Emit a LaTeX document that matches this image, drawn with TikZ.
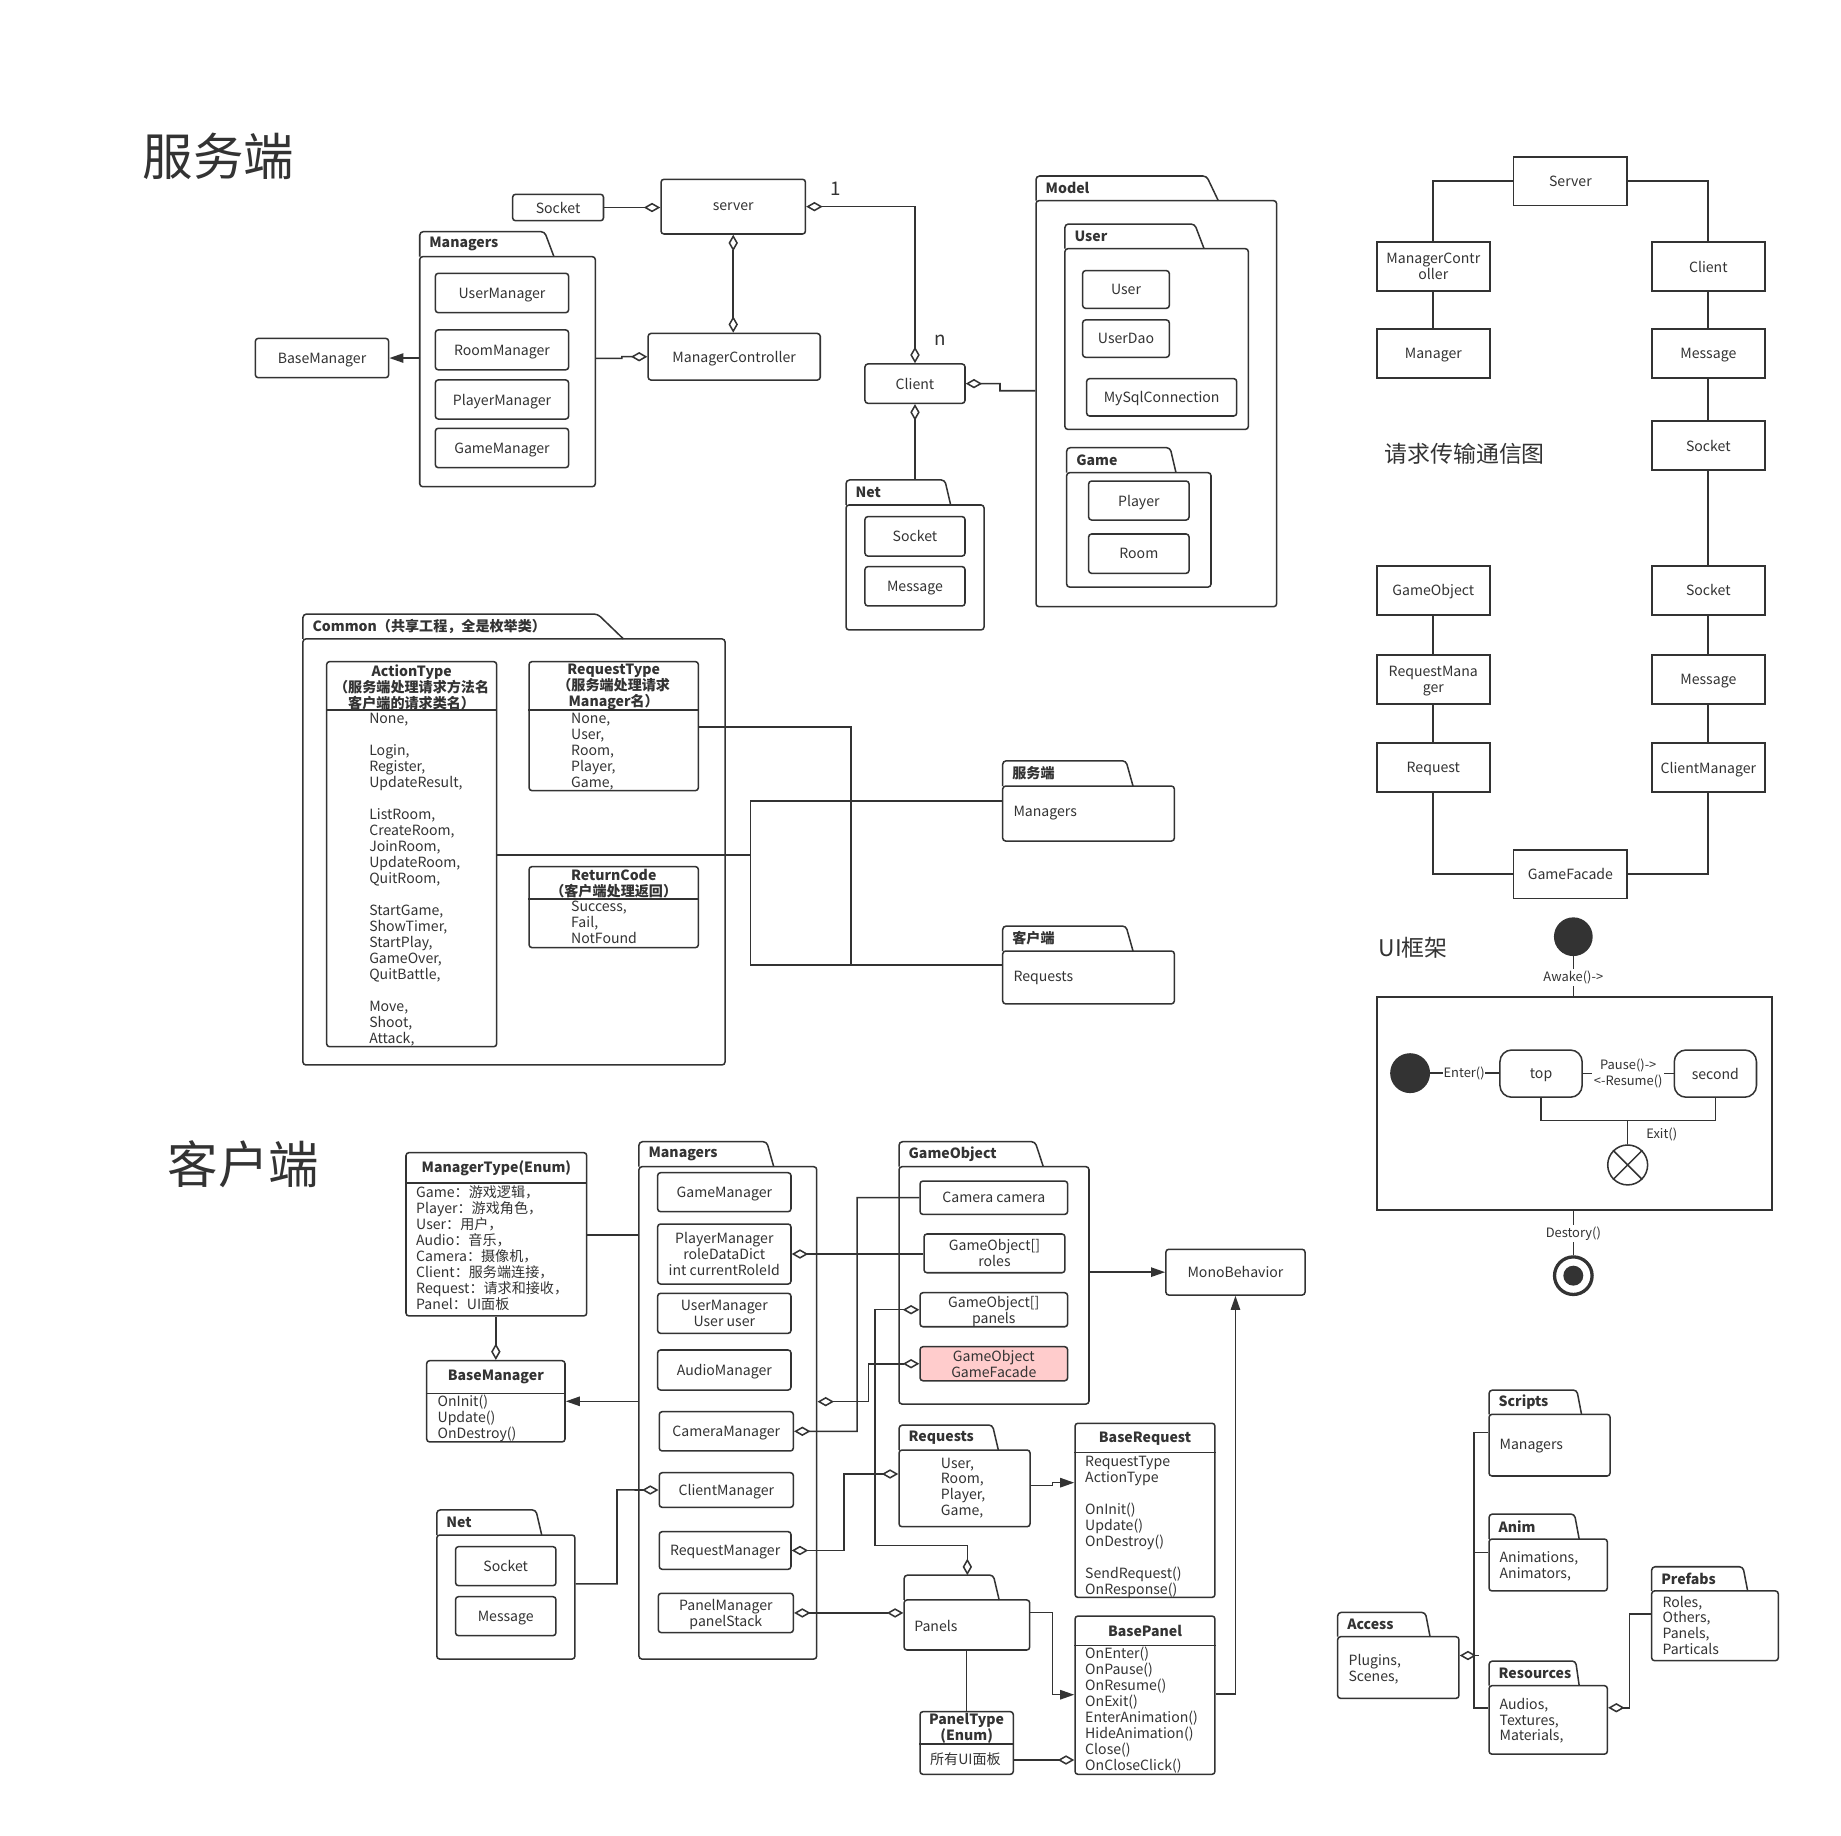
\documentclass[tikz,border=0pt]{standalone}
\usepackage{fontspec}
\setmainfont{Noto Sans CJK SC}
\usetikzlibrary{arrows.meta,calc}
\definecolor{ink}{HTML}{333333}
\definecolor{facade}{HTML}{FFCCCC}

\newcommand\ftn{\fontsize{12}{13.6}\selectfont}
\newcommand\ftb{\fontsize{12}{13.6}\selectfont\bfseries}
\newcommand\fts{\fontsize{11}{13.6}\selectfont}

% rectangle node given by its corners: [options]{name}{x1}{y1}{x2}{y2}{text}
\newcommand\mkbox[7][]{%
  \node[box,#1,minimum width={(#5)-(#3)},minimum height={(#6)-(#4)}] (#2)
    at ({((#3)+(#5))/2},{((#4)+(#6))/2}) {#7};}
% UML package: {name}{x1}{tab top}{body top}{x2}{bottom}{tab right}{tab slant}{label}
\newcommand\mkpkg[9]{%
  \node[pkgbody,minimum width={(#5)-(#2)},minimum height={(#6)-(#4)}] (#1)
    at ({((#2)+(#5))/2},{((#4)+(#6))/2}) {};
  \draw[pkgline,rounded corners=3pt] ({#2},{#4}) -- ({#2},{#3}) -- ({(#7)-(#8)},{#3}) -- ({#7},{#4});
  \node[pkglabel,anchor=west] at ({(#2)+8},{((#3)+(#4))/2}) {#9};}
% left-aligned list of lines: {x}{y of first line}{items}
\newcommand\mklist[3]{%
  \foreach \itm [count=\ii from 0] in {#3} {\node[lstitem] at ({#1},{(#2)+13.6*\ii}) {\itm};}}

\begin{document}
\begin{tikzpicture}[x=1pt,y=-1pt,
  every node/.style={text=ink},
  conn/.style={draw=ink,line width=1.3pt},
  box/.style={draw=ink,line width=1.3pt,rounded corners=2.5pt,inner sep=1pt,align=center,font=\ftn,text depth=0pt},
  rbox/.style={sharp corners,line width=1.5pt},
  pkgbody/.style={draw=ink,line width=1.3pt,rounded corners=2.5pt,inner sep=0},
  pkgline/.style={draw=ink,line width=1.3pt},
  pkglabel/.style={font=\ftb,inner sep=0},
  lstitem/.style={anchor=west,inner sep=0,font=\ftn,text height=9pt,text depth=1pt},
  txt/.style={anchor=west,inner sep=0,font=\ftn},
  hdr/.style={font=\ftb,align=center,inner sep=0},
  lblw/.style={fill=white,inner sep=1.5pt,font=\fts,align=center},
  lbl/.style={inner sep=0,font=\fts},
  title/.style={font=\fontsize{43}{43}\selectfont,inner sep=0},
  agg/.style={-{Diamond[length=14pt,width=8pt,fill=white]}},
  aggs/.style={{Diamond[length=14pt,width=8pt,fill=white]}-},
  aggb/.style={{Diamond[length=14pt,width=8pt,fill=white]}-{Diamond[length=14pt,width=8pt,fill=white]}},
  gen/.style={-{Triangle[length=12pt,width=8pt]}},
]
\path[use as bounding box,fill=white] (0,0) rectangle (1568,1563);

%% ---------------- server side ----------------
\node[title] (tServer) at (186,133) {服务端};
\mkbox{sSock}{436.6}{165.5}{514}{188}{Socket}
\mkbox{sServer}{563}{152.7}{686}{199.3}{server}
\mkpkg{sMgrs}{357.5}{197.3}{218.6}{507}{414.5}{471.8}{8}{Managers}
\mkbox{sUM}{370.8}{232.8}{484.3}{266.3}{UserManager}
\mkbox{sRM}{370.8}{281}{484.3}{315}{RoomManager}
\mkbox{sPM}{370.8}{323.6}{484.3}{356.9}{PlayerManager}
\mkbox{sGM}{370.8}{364.8}{484.3}{398.3}{GameManager}
\mkbox{sBase}{217.5}{288.2}{331}{321.7}{BaseManager}
\mkbox{sMC}{552}{284}{698.6}{323.7}{ManagerController}
\mkbox{sClient}{736.7}{310}{821.9}{343.5}{Client}
\mkpkg{sNet}{720.6}{408.8}{430.1}{838.1}{536.5}{809.7}{5}{Net}
\mkbox{sNSock}{736.7}{440}{821.9}{473.6}{Socket}
\mkbox{sNMsg}{736.7}{482.6}{821.9}{516.1}{Message}
\mkpkg{sModel}{882.4}{149.9}{170.9}{1087.3}{516.7}{1037.6}{10}{Model}
\mkpkg{sUserP}{907}{190.8}{211.8}{1063.2}{365.7}{1025.5}{8}{User}
\mkbox{mUser}{922.1}{230.5}{995.9}{262.6}{User}
\mkbox{mDao}{922.1}{272.5}{995.9}{304.3}{UserDao}
\mkbox{mSql}{925.5}{322.5}{1053.3}{354.3}{MySqlConnection}
\mkpkg{sGameP}{908.5}{381.3}{402.6}{1031.4}{500}{1001.6}{5}{Game}
\mkbox{mPlayer}{927.2}{409.7}{1012.7}{442.9}{Player}
\mkbox{mRoom}{927.2}{454.8}{1012.7}{488.3}{Room}

\draw[conn,agg] (sSock.east) -- (sSock.east -| sServer.west);
\draw[conn,aggb] (sServer.south) -- (sServer.south |- sMC.north);
\draw[conn,aggb] (sServer.east) -| (sClient.north);
\draw[conn,gen] (sBase.east -| sMgrs.west) -- (sBase.east);
\draw[conn,agg] (sMgrs.east |- 0,305.2) -- (529.6,305.2) -- (529.6,303.8) -- (sMC.west);
\draw[conn,aggs] (sClient.east) -- (851.7,326.8) -- (851.7,332.8) -- (sModel.west |- 0,332.8);
\draw[conn,aggs] (sClient.south) -- (sClient.south |- 0,408.8);
\node[font=\fontsize{16}{16}\selectfont,inner sep=0] (lOne) at (712,160.4) {1};
\node[font=\fontsize{16}{16}\selectfont,inner sep=0] (lN) at (800.6,290.2) {n};

%% ---------------- shared enums ----------------
\mkpkg{cPkg}{258}{523}{544.2}{617.5}{907}{531}{22}{Common（共享工程，全是枚举类）}
\mkbox{cAct}{278.2}{563.5}{423}{891.5}{}
\node[hdr] (hAct) at (350.6,585.3) {ActionType\\（服务端处理请求方法名\\客户端的请求类名）};
\draw[conn] (cAct.west |- 0,604.7) -- (cAct.east |- 0,604.7);
\mklist{314.3}{612.4}{{None,},{},{Login,},{Register,},{UpdateResult,},{},{ListRoom,},{CreateRoom,},{JoinRoom,},{UpdateRoom,},{QuitRoom,},{},{StartGame,},{ShowTimer,},{StartPlay,},{GameOver,},{QuitBattle,},{},{Move,},{Shoot,},{Attack,}}
\mkbox{cReq}{450.6}{563.5}{594.8}{673.4}{}
\node[hdr] (hReq) at (522.7,585.3) {RequestType\\（服务端处理请求\\Manager名）};
\draw[conn] (cReq.west |- 0,604.7) -- (cReq.east |- 0,604.7);
\mklist{486.3}{612.4}{{None,},{User,},{Room,},{Player,},{Game,}}
\mkbox{cRet}{450.6}{738.1}{594.8}{807.1}{}
\node[hdr] (hRet) at (522.7,752.6) {ReturnCode\\（客户端处理返回）};
\draw[conn] (cRet.west |- 0,765.7) -- (cRet.east |- 0,765.7);
\mklist{486.3}{772.5}{{Success,},{Fail,},{NotFound}}

\mkpkg{cSrv}{854}{648}{669.5}{1000.2}{716.3}{965}{6}{服务端}
\node[txt] at (863,692.6) {Managers};
\mkpkg{cCli}{854}{788.7}{810}{1000.2}{855}{965}{6}{客户端}
\node[txt] at (863,833) {Requests};

\draw[conn] (cReq.east |- 0,619) -| (725,822) -- (cCli.west |- 0,822);
\draw[conn] (cAct.east |- 0,728.2) -- (639,728.2);
\draw[conn] (cSrv.west |- 0,682) -| (639,822) -- (725,822);

%% ---------------- request flow ----------------
\mkbox[rbox]{rServer}{1289}{133.7}{1386}{175}{Server}
\mkbox[rbox]{rMC}{1172.5}{206}{1269}{248}{ManagerContr\\oller}
\mkbox[rbox]{rMgr}{1172.5}{280.2}{1269}{322}{Manager}
\mkbox[rbox]{rClient}{1406.7}{206}{1503.3}{248}{Client}
\mkbox[rbox]{rMsg}{1406.7}{280.2}{1503.3}{322}{Message}
\mkbox[rbox]{rSock}{1406.7}{358.6}{1503.3}{400.3}{Socket}
\mkbox[rbox]{rSock2}{1406.7}{482}{1503.3}{523.5}{Socket}
\mkbox[rbox]{rMsg2}{1406.7}{557.7}{1503.3}{599.4}{Message}
\mkbox[rbox]{rCM}{1406.7}{632.8}{1503.3}{674.6}{ClientManager}
\mkbox[rbox]{rGO}{1172.5}{482}{1269}{523.5}{GameObject}
\mkbox[rbox]{rRM}{1172.5}{557.7}{1269}{599.4}{RequestMana\\ger}
\mkbox[rbox]{rReq}{1172.5}{632.8}{1269}{674.6}{Request}
\mkbox[rbox]{rGF}{1289}{724}{1386}{765.3}{GameFacade}
\draw[conn,line width=1.5pt] (rServer.west) -| (rMC.north);
\draw[conn,line width=1.5pt] (rServer.east) -| (rClient.north);
\draw[conn,line width=1.5pt] (rMC) -- (rMgr);
\draw[conn,line width=1.5pt] (rClient) -- (rMsg);
\draw[conn,line width=1.5pt] (rMsg) -- (rSock);
\draw[conn,line width=1.5pt] (rSock) -- (rSock2);
\draw[conn,line width=1.5pt] (rSock2) -- (rMsg2);
\draw[conn,line width=1.5pt] (rMsg2) -- (rCM);
\draw[conn,line width=1.5pt] (rCM.south) |- (rGF.east);
\draw[conn,line width=1.5pt] (rGF.west) -| (rReq.south);
\draw[conn,line width=1.5pt] (rReq) -- (rRM);
\draw[conn,line width=1.5pt] (rRM) -- (rGO);
\node[font=\fontsize{19.5}{20}\selectfont,inner sep=0] (tFlow) at (1247.5,386.5) {请求传输通信图};

%% ---------------- UI state machine ----------------
\node[font=\fontsize{19.5}{20}\selectfont,inner sep=0] (tUI) at (1203.5,807.5) {UI框架};
\node[circle,fill=ink,minimum size=33,inner sep=0] (uStart) at (1340,797.8) {};
\node[draw=ink,line width=1.5pt,minimum width=337,minimum height=181.6,inner sep=0] (uFrame) at (1341,939.8) {};
\draw[conn] (uStart.south) -- (uStart.south |- uFrame.north);
\node[lblw] (lAwake) at (1340,832.4) {Awake()->};
\node[circle,fill=ink,minimum size=34,inner sep=0] (uIn) at (1201,914) {};
\node[box,rounded corners=10pt,minimum width=70,minimum height=40.2] (uTop) at (1312.5,914.4) {top};
\node[box,rounded corners=10pt,minimum width=70,minimum height=40.2] (uSec) at (1461,914.4) {second};
\draw[conn] (uIn.east) -- (uIn.east -| uTop.west);
\node[lblw,inner sep=0.5pt] (lEnter) at (1247,914) {Enter()};
\draw[conn] (uTop.east) -- (uSec.west);
\node[lblw] (lPause) at (1386.8,914.4) {Pause()->\\<-Resume()};
\node[draw=ink,line width=1.3pt,circle,minimum size=34,inner sep=0] (uX) at (1386.3,992.2) {};
\draw[conn] (uTop.south) -- (uTop.south |- 0,954.5) -| (uSec.south);
\draw[conn] (uX.north) -- (uX.north |- 0,954.5);
\draw[conn] (uX.north west) -- (uX.south east) (uX.north east) -- (uX.south west);
\node[lbl] (lExit) at (1415.3,966) {Exit()};
\node[circle,draw=ink,line width=2.8pt,minimum size=32,inner sep=0] (uEnd) at (1340,1086.5) {};
\node[circle,fill=ink,minimum size=17,inner sep=0] (uEndDot) at (uEnd) {};
\draw[conn] (uEnd.north |- uFrame.south) -- (uEnd.north);
\node[lblw] (lDestroy) at (1340,1050.4) {Destory()};

%% ---------------- client side ----------------
\node[title] (tClient) at (207.3,991.5) {客户端};
\mkbox{kMT}{345.8}{981.7}{499.7}{1120.8}{}
\node[hdr] (hMT) at (422.75,995) {ManagerType(Enum)};
\draw[conn] (kMT.west |- 0,1007.5) -- (kMT.east |- 0,1007.5);
\mklist{354.3}{1016.3}{{Game：游戏逻辑，},{Player：游戏角色，},{User：用户，},{Audio：音乐，},{Camera：摄像机，},{Client：服务端连接，},{Request：请求和接收，},{Panel：UI面板}}
\mkbox{kBM}{363.4}{1158.9}{481.2}{1228.1}{}
\node[hdr] (hBM) at (422.3,1173) {BaseManager};
\draw[conn] (kBM.west |- 0,1186.7) -- (kBM.east |- 0,1186.7);
\mklist{372.5}{1193.8}{{OnInit()},{Update()},{OnDestroy()}}

\mkpkg{kMgrs}{544.2}{972.4}{993.7}{695.6}{1413}{659}{6}{Managers}
\mkbox{kGM}{560.1}{998.8}{673.7}{1032}{GameManager}
\mkbox{kPM}{560.1}{1042.5}{673.7}{1093.6}{PlayerManager\\roleDataDict\\int currentRoleId}
\mkbox{kUM}{560.1}{1101.5}{673.7}{1135.6}{UserManager\\User user}
\mkbox{kAM}{560.1}{1149.8}{673.7}{1183.9}{AudioManager}
\mkbox{kCam}{561.5}{1202.3}{675.7}{1235.8}{CameraManager}
\mkbox{kCliM}{561.5}{1254.3}{675.7}{1283.8}{ClientManager}
\mkbox{kRM}{561.5}{1304.5}{673.7}{1336.6}{RequestManager}
\mkbox{kPnlM}{560.7}{1357}{675.7}{1390.5}{PanelManager\\panelStack}

\mkpkg{kNet}{372}{1286}{1307.4}{489.7}{1413}{461.4}{5}{Net}
\mkbox{kNSock}{388}{1317.3}{473.5}{1350.5}{Socket}
\mkbox{kNMsg}{388}{1359.9}{473.5}{1393.1}{Message}

\mkpkg{kGO}{765.7}{972.4}{993.7}{927.5}{1195.8}{888.6}{7}{GameObject}
\mkbox{kCamera}{783.6}{1005.9}{909.3}{1034.3}{Camera camera}
\mkbox{kRoles}{787}{1051}{907}{1084}{GameObject[]\\roles}
\mkbox{kPans}{783.6}{1101}{909.3}{1130}{GameObject[]\\panels}
\mkbox[fill=facade]{kFacade}{783.6}{1147}{909.3}{1176}{GameObject\\GameFacade}
\mkbox{kMono}{993}{1064}{1111.5}{1103}{MonoBehavior}

\mkpkg{kReqs}{765.7}{1213.7}{1235}{877.3}{1300.3}{850.3}{5}{Requests}
\mklist{801.2}{1246.3}{{User,},{Room,},{Player,},{Game,}}
\mkbox{kBR}{915.6}{1212.2}{1034.8}{1360.5}{}
\node[hdr] (hBR) at (975.2,1225) {BaseRequest};
\draw[conn] (kBR.west |- 0,1237.2) -- (kBR.east |- 0,1237.2);
\mklist{924.1}{1244.9}{{RequestType},{ActionType},{},{OnInit()},{Update()},{OnDestroy()},{},{SendRequest()},{OnResponse()}}

\mkpkg{kPnls}{770}{1341.5}{1362.7}{877}{1405.3}{851}{5}{}
\node[txt] at (778.5,1385.1) {Panels};
\coordinate (kPnlTab) at (823.9,1341.5);
\mkbox{kBP}{915.6}{1376.4}{1034.8}{1511.2}{}
\node[hdr] (hBP) at (975.2,1389.2) {BasePanel};
\draw[conn] (kBP.west |- 0,1401.6) -- (kBP.east |- 0,1401.6);
\mklist{924.1}{1408.7}{{OnEnter()},{OnPause()},{OnResume()},{OnExit()},{EnterAnimation()},{HideAnimation()},{Close()},{OnCloseClick()}}
\mkbox{kPT}{783.6}{1457.8}{863}{1511.2}{}
\node[hdr] (hPT) at (823.3,1471.8) {PanelType\\(Enum)};
\draw[conn] (kPT.west |- 0,1485.4) -- (kPT.east |- 0,1485.4);
\node[txt] at (792,1498.4) {所有UI面板};

\draw[conn] (kMT.east |- 0,1052) -- (kMgrs.west |- 0,1052);
\draw[conn,agg] (kBM.north |- kMT.south) -- (kBM.north);
\draw[conn,gen] (kBM.east -| kMgrs.west) -- (kBM.east);
\draw[conn,agg] (kNet.east |- 0,1349) -| (525.5,1269) -- (kCliM.west);
\draw[conn,aggs] (kPM.east) -- (kPM.east -| kRoles.west);
\draw[conn,aggs] (kCam.east) -| (730,1020.1) -- (kCamera.west);
\draw[conn,aggb] (kPans.west) -| (745.3,1316.5) -| (kPnlTab);
\draw[conn,aggb] (kMgrs.east |- 0,1193.8) -| (739.5,1161.5) -- (kFacade.west);
\draw[conn,aggb] (kRM.east) -| (719,1255.4) -- (kReqs.west |- 0,1255.4);
\draw[conn,aggb] (kPnlM.east) -- (kPnlM.east -| kPnls.west);
\draw[conn,gen] (kMono.west -| kGO.east) -- (kMono.west);
\draw[conn,gen] (kReqs.east |- 0,1265.4) -- (896.3,1265.4) -- (896.3,1262.8) -- (kBR.west |- 0,1262.8);
\draw[conn,gen] (kPnls.east |- 0,1373.3) -| (896.3,1443.4) -- (kBP.west |- 0,1443.4);
\draw[conn,agg] (kPT.east |- 0,1499) -- (kBP.west |- 0,1499);
\draw[conn,gen] (kBP.east |- 0,1443) -| (kMono.south);
\draw[conn] (kPT.north |- kPnls.south) -- (kPT.north);

%% ---------------- project folders ----------------
\mkpkg{aScr}{1268.2}{1183.9}{1204.6}{1371.3}{1257.1}{1347}{4}{Scripts}
\node[txt] at (1277,1231.3) {Managers};
\mkpkg{aAnim}{1268.2}{1289.5}{1310.8}{1369}{1355}{1345}{4}{Anim}
\mklist{1277}{1326.4}{{Animations,},{Animators,}}
\mkpkg{aAcc}{1139.3}{1373.3}{1394}{1242.6}{1446.5}{1218}{4}{Access}
\mklist{1148.4}{1414.4}{{Plugins,},{Scenes,}}
\mkpkg{aRes}{1268.2}{1414.7}{1435.7}{1369}{1494}{1345}{3}{Resources}
\mklist{1277}{1451.6}{{Audios,},{Textures,},{Materials,}}
\mkpkg{aPre}{1406.7}{1334.4}{1355}{1514.6}{1414.4}{1488.5}{4}{Prefabs}
\mklist{1415.8}{1364.7}{{Roles,},{Others,},{Panels,},{Particals}}

\draw[conn,aggs] (aAcc.east |- 0,1410) -- (1260,1410);
\draw[conn] (aScr.west |- 0,1220) -| (1255.5,1454.5) -- (aRes.west |- 0,1454.5);
\draw[conn] (aAnim.west |- 0,1322.4) -- (1255.5,1322.4);
\draw[conn,aggs] (aRes.east |- 0,1454.5) -| (1388,1374.6) -- (aPre.west |- 0,1374.6);
\end{tikzpicture}
\end{document}
